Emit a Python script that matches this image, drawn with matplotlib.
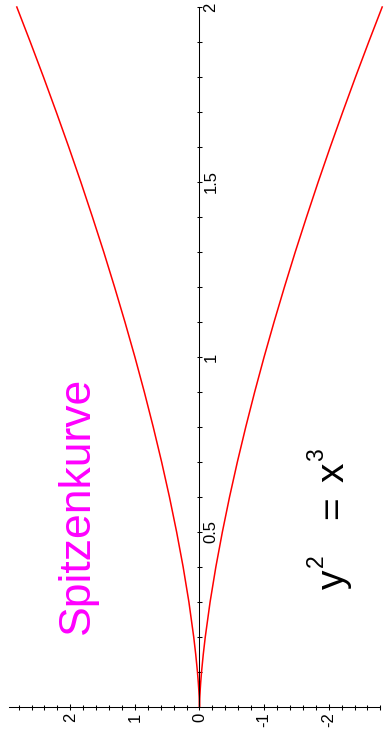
import matplotlib
matplotlib.use('Agg')
import matplotlib.pyplot as plt
from matplotlib.ticker import FixedLocator

plt.rcParams['font.family'] = ['Liberation Sans', 'DejaVu Sans']

x_vals = [0.0, 0.01, 0.02, 0.03, 0.05, 0.07, 0.1, 0.15, 0.2, 0.3, 0.4, 0.5,
          0.6, 0.7, 0.8, 0.9, 1.0, 1.1, 1.2, 1.3, 1.4, 1.5, 1.6, 1.7, 1.8,
          1.9, 2.0]
y_vals = [0.0, 0.001, 0.0028, 0.0052, 0.0112, 0.0185, 0.0316, 0.0581, 0.0894,
          0.164, 0.253, 0.354, 0.465, 0.586, 0.716, 0.854, 1.0, 1.154, 1.315,
          1.482, 1.657, 1.837, 2.024, 2.217, 2.415, 2.619, 2.828]

x_ticks = [0.5, 1, 1.5, 2]
x_tick_labels = ['0.5', '1', '1.5', '2']
y_ticks = [2, 1, 0, -1, -2]
y_tick_labels = ['2', '1', '0', '-1', '-2']

W, H = 384, 740
fig = plt.figure(figsize=(W / 100, H / 100), dpi=100)
ax = fig.add_axes([0, 0, 1, 1])

ax.plot(y_vals, x_vals, color='#ff0000', lw=1.1)
ax.plot([-v for v in y_vals], x_vals, color='#ff0000', lw=1.1)

ax.set_xlim(3.088, -2.856)
ax.set_ylim(-0.0943, 2.02)

for s in ['top', 'left']:
	ax.spines[s].set_visible(False)
ax.spines['bottom'].set_position(('data', 0))
ax.spines['bottom'].set_bounds(-2.794, 2.944)
ax.spines['right'].set_position(('data', 0))
ax.spines['right'].set_bounds(0, 2)
for s in ['bottom', 'right']:
	ax.spines[s].set_linewidth(0.75)

ax.yaxis.tick_right()
ax.set_yticks(x_ticks)
ax.set_yticklabels(x_tick_labels, rotation=90, va='center', ha='left', fontsize=12)
ax.yaxis.set_minor_locator(FixedLocator([i / 10 for i in range(1, 20)]))
ax.tick_params(axis='y', which='both', direction='inout', length=3.6, width=0.75, pad=1)

ax.set_xticks(y_ticks)
ax.set_xticklabels(y_tick_labels, rotation=90, fontsize=12)
ax.xaxis.set_minor_locator(FixedLocator([i / 5 for i in range(-14, 15)]))
ax.tick_params(axis='x', which='major', direction='inout', length=5, width=0.75, pad=1.5)
ax.tick_params(axis='x', which='minor', direction='inout', length=3.6, width=0.75)


def put(px, py, s, size, color='black'):
	fig.text(px / W, 1 - py / H, s, fontsize=size, color=color, rotation=90,
	         rotation_mode='anchor', ha='left', va='baseline')


put(89, 634, 'Spitzenkurve', 32, '#ff00ff')

put(344, 589, 'y', 28)
put(323, 567, '2', 16.5)
put(344, 519, '=', 28)
put(344, 482, 'x', 28)
put(323, 461, '3', 16.5)

fig.savefig('out.png', dpi=100)
